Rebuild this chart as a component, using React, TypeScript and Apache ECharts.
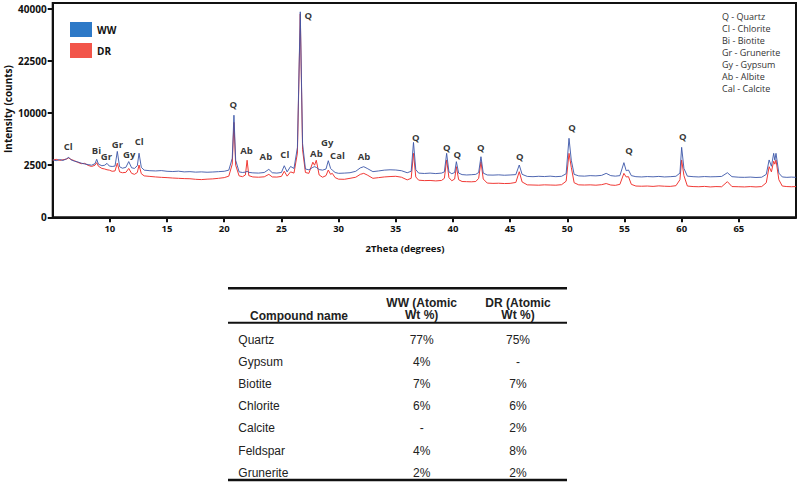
import React, { useEffect, useRef } from "react";
import * as echarts from "echarts";

// 2Theta positions (degrees) shared by both scans
const twoTheta = [
  5.0, 5.3, 5.6, 5.9, 6.2, 6.4, 6.6, 6.9, 7.2, 7.5, 7.8, 8.1, 8.4, 8.7, 8.85, 9.0, 9.3, 9.55, 9.75, 9.95,
  10.2, 10.45, 10.65, 10.85, 11.1, 11.4, 11.65, 11.9, 12.15, 12.4, 12.55, 12.75, 13.0, 13.5, 14.0, 14.5, 15.0, 15.5, 16.0, 16.5,
  17.0, 17.5, 18.0, 18.5, 19.0, 19.5, 20.0, 20.4, 20.7, 20.85, 21.0, 21.3, 21.6, 21.85, 22.0, 22.15, 22.5, 23.0, 23.5, 23.9,
  24.2, 24.6, 25.0, 25.25, 25.5, 25.8, 26.1, 26.4, 26.65, 26.85, 27.1, 27.4, 27.75, 27.9, 28.05, 28.3, 28.6, 28.9, 29.1, 29.3,
  29.45, 29.7, 30.0, 30.5, 31.0, 31.5, 31.9, 32.2, 32.5, 33.0, 33.5, 34.0, 34.5, 35.0, 35.5, 36.0, 36.35, 36.55, 36.75, 37.0,
  37.5, 38.0, 38.5, 39.0, 39.25, 39.45, 39.65, 39.9, 40.15, 40.3, 40.5, 40.8, 41.2, 41.6, 42.0, 42.25, 42.45, 42.65, 43.0, 43.5,
  44.0, 44.5, 45.0, 45.5, 45.8, 46.05, 46.5, 47.0, 47.5, 48.0, 48.5, 49.0, 49.5, 49.9, 50.15, 50.35, 50.6, 51.0, 51.5, 52.0,
  52.5, 53.0, 53.4, 53.8, 54.2, 54.6, 54.95, 55.15, 55.35, 55.6, 56.0, 56.5, 57.0, 57.5, 58.0, 58.5, 59.0, 59.5, 59.85, 60.0,
  60.2, 60.5, 61.0, 61.5, 62.0, 62.5, 63.0, 63.5, 64.0, 64.4, 65.0, 65.5, 66.0, 66.5, 67.0, 67.4, 67.65, 67.85, 68.05, 68.15,
  68.25, 68.5, 68.8, 69.2, 69.6, 70.0,
];

// Intensity (counts), WW scan
const wwCounts = [
  3050, 2950, 3080, 2980, 3150, 3320, 3050, 2900, 2820, 2700, 2620, 2560, 2500, 2650, 3100, 2600, 2450, 2500, 2680, 2420,
  2380, 2420, 4000, 2350, 2220, 2300, 2860, 2260, 2200, 2450, 3780, 2300, 2050, 2000, 1980, 2010, 1950, 1930, 1960, 1900,
  1920, 1880, 1900, 1870, 1890, 1920, 1950, 2050, 3200, 9600, 3000, 1900, 1850, 1880, 1950, 1860, 1820, 1800, 1850, 2120,
  1830, 1800, 1850, 2450, 1900, 2380, 2200, 4500, 38900, 5000, 2150, 2080, 2300, 2360, 2300, 2100, 2050, 2150, 2950, 2200,
  2050, 1850, 1780, 1800, 1830, 1950, 2250, 2360, 2200, 1920, 1980, 2050, 2080, 2060, 2000, 1830, 1950, 5170, 2100, 1800,
  1770, 1800, 1760, 1800, 1900, 3770, 1900, 1750, 1850, 2850, 1800, 1680, 1650, 1670, 1700, 1850, 3380, 1800, 1650, 1640,
  1660, 1630, 1650, 1680, 2520, 1700, 1540, 1520, 1550, 1530, 1560, 1520, 1550, 1750, 5750, 3000, 1700, 1580, 1560, 1600,
  1580, 1620, 1780, 1600, 1560, 1600, 2750, 2000, 2060, 1600, 1520, 1500, 1530, 1510, 1540, 1500, 1520, 1550, 1800, 4510,
  2200, 1560, 1520, 1500, 1530, 1510, 1520, 1540, 1830, 1520, 1480, 1470, 1490, 1460, 1480, 1700, 3030, 2400, 3770, 3000,
  3770, 1800, 1500, 1470, 1490, 1470,
];

// Intensity (counts), DR scan
const drCounts = [
  3000, 3100, 2980, 3050, 3120, 3250, 3080, 2950, 2780, 2650, 2680, 2480, 2380, 2500, 2750, 2400, 2200, 2150, 2080, 2050,
  1950, 1980, 2700, 1900, 1830, 1860, 2200, 1780, 1700, 1850, 2520, 1750, 1580, 1540, 1500, 1470, 1450, 1420, 1400, 1380,
  1370, 1330, 1310, 1340, 1360, 1400, 1450, 1560, 2600, 8300, 2500, 1580, 1520, 1650, 3000, 1600, 1500, 1480, 1510, 1700,
  1500, 1490, 1540, 1950, 1560, 1900, 1800, 3800, 38100, 4200, 1850, 1780, 2800, 2500, 3000, 1650, 1480, 1600, 2060, 1700,
  1780, 1450, 1340, 1330, 1400, 1480, 1700, 1780, 1650, 1400, 1450, 1500, 1530, 1550, 1480, 1290, 1400, 3770, 1500, 1270,
  1240, 1250, 1220, 1250, 1400, 3030, 1450, 1230, 1350, 2360, 1300, 1180, 1170, 1160, 1180, 1400, 2850, 1350, 1080, 1060,
  1070, 1050, 1060, 1120, 1915, 1150, 970, 960, 950, 970, 960, 950, 980, 1200, 3770, 2300, 1100, 970, 960, 970,
  950, 980, 1050, 960, 940, 1000, 1780, 1500, 1520, 1000, 900, 890, 900, 880, 910, 890, 880, 920, 1300, 3030,
  1600, 900, 870, 860, 880, 850, 870, 860, 1170, 870, 860, 850, 870, 850, 870, 1100, 2360, 1900, 2900, 2600,
  3030, 1300, 900, 870, 860, 870,
];

// Peak annotations: label, 2Theta, intensity level of the label
const peakLabels = ["Cl", "Bi", "Gr", "Gr", "Gy", "Cl", "Q", "Ab", "Ab", "Cl", "Q", "Ab", "Gy", "Cal", "Ab", "Q", "Q", "Q", "Q", "Q", "Q", "Q", "Q"];
const peakTheta = [6.36, 8.83, 9.7, 10.66, 11.69, 12.56, 20.8, 21.94, 23.64, 25.3, 27.36, 28.06, 29.0, 29.9, 32.23, 36.75, 39.46, 40.39, 42.43, 45.84, 50.42, 55.4, 60.1];
const peakLevel = [4600, 4050, 3460, 4910, 3660, 5270, 11620, 4050, 3460, 3660, 37640, 3770, 5150, 3560, 3460, 5900, 4460, 3580, 4520, 3460, 7460, 4050, 5990];

const xTicks = [10, 15, 20, 25, 30, 35, 40, 45, 50, 55, 60, 65];
const yTickCounts = [0, 2500, 10000, 22500, 40000];

const mineralKey = ["Q - Quartz", "Cl - Chlorite", "Bi - Biotite", "Gr - Grunerite", "Gy - Gypsum", "Ab - Albite", "Cal - Calcite"];

// Table
const tableHeaders = ["Compound name", "WW (Atomic\nWt %)", "DR (Atomic\nWt %)"];
const compoundNames = ["Quartz", "Gypsum", "Biotite", "Chlorite", "Calcite", "Feldspar", "Grunerite"];
const wwPercent = ["77%", "4%", "7%", "6%", "-", "4%", "2%"];
const drPercent = ["75%", "-", "7%", "6%", "2%", "8%", "2%"];

const AXIS_FONT = "'Open Sans', 'Noto Sans', sans-serif";
const TABLE_FONT = "'Liberation Sans', Arial, sans-serif";

export default function App() {
  const ref = useRef<HTMLDivElement>(null);

  useEffect(() => {
    if (!ref.current) return;
    const chart = echarts.init(ref.current, null, { renderer: "svg" });

    const ww = twoTheta.map((t, i) => [t, Math.sqrt(wwCounts[i])]);
    const dr = twoTheta.map((t, i) => [t, Math.sqrt(drCounts[i])]);
    const labels = peakLabels.map((l, i) => ({ name: l, value: [peakTheta[i], Math.sqrt(peakLevel[i])] }));

    const graphics: any[] = [];
    // axis titles
    graphics.push({
      type: "text",
      x: 8,
      y: 109,
      rotation: Math.PI / 2,
      style: { text: "Intensity (counts)", font: `bold 10px ${AXIS_FONT}`, fill: "#111", textAlign: "center", textVerticalAlign: "middle" },
    });
    graphics.push({
      type: "text",
      x: 405,
      y: 248,
      style: { text: "2Theta (degrees)", font: `bold 9.5px ${AXIS_FONT}`, fill: "#111", textAlign: "center", textVerticalAlign: "middle" },
    });
    // mineral key
    mineralKey.forEach((k, i) => {
      graphics.push({
        type: "text",
        x: 722,
        y: 16 + i * 12,
        style: { text: k, font: `9px ${AXIS_FONT}`, fill: "#333", textAlign: "left", textVerticalAlign: "middle" },
      });
    });

    // table
    const tl = 228, tr = 567;
    const rules = [
      { y: 288.3, h: 2.5 },
      { y: 322.7, h: 2 },
      { y: 480, h: 2.5 },
    ];
    rules.forEach((r) => {
      graphics.push({ type: "rect", shape: { x: tl, y: r.y - r.h / 2, width: tr - tl, height: r.h }, style: { fill: "#111" } });
    });
    const colX = [250, 421.7, 518];
    graphics.push({
      type: "text",
      x: colX[0],
      y: 316,
      style: { text: tableHeaders[0], font: `bold 12px ${TABLE_FONT}`, fill: "#222", textAlign: "left", textVerticalAlign: "middle" },
    });
    [1, 2].forEach((c) => {
      graphics.push({
        type: "text",
        x: colX[c],
        y: 309,
        style: { text: tableHeaders[c], font: `bold 12px ${TABLE_FONT}`, lineHeight: 12.5, fill: "#222", textAlign: "center", textVerticalAlign: "middle" },
      });
    });
    compoundNames.forEach((n, i) => {
      const y = 340 + i * 22.1;
      graphics.push({ type: "text", x: 238.3, y, style: { text: n, font: `12px ${TABLE_FONT}`, fill: "#222", textAlign: "left", textVerticalAlign: "middle" } });
      graphics.push({ type: "text", x: colX[1], y, style: { text: wwPercent[i], font: `12px ${TABLE_FONT}`, fill: "#222", textAlign: "center", textVerticalAlign: "middle" } });
      graphics.push({ type: "text", x: colX[2], y, style: { text: drPercent[i], font: `12px ${TABLE_FONT}`, fill: "#222", textAlign: "center", textVerticalAlign: "middle" } });
    });

    chart.setOption({
      animation: false,
      backgroundColor: "#fff",
      grid: {
        left: 52.7,
        right: 4,
        top: 3,
        bottom: 266.7,
        show: true,
        borderColor: "#111",
        borderWidth: 2,
        containLabel: false,
      },
      legend: {
        left: 65,
        top: 17,
        orient: "vertical",
        itemWidth: 22,
        itemHeight: 15,
        itemGap: 6,
        icon: "rect",
        selectedMode: false,
        textStyle: { fontFamily: AXIS_FONT, fontWeight: "bold", fontSize: 10, color: "#111" },
        data: [
          { name: "WW", itemStyle: { color: "#2d79c7" } },
          { name: "DR", itemStyle: { color: "#f2554a" } },
        ],
      },
      xAxis: {
        type: "value",
        min: 5,
        max: 70,
        interval: 5,
        axisLine: { show: true, lineStyle: { color: "#111", width: 2 } },
        axisTick: { show: true, length: 5, lineStyle: { color: "#111", width: 2 }, customValues: xTicks },
        axisLabel: {
          customValues: xTicks,
          margin: 6,
          fontFamily: AXIS_FONT,
          fontWeight: "bold",
          fontSize: 9.5,
          color: "#111",
        },
        splitLine: { show: false },
      },
      yAxis: {
        type: "value",
        min: 0,
        max: 205.7,
        interval: 50,
        axisLine: { show: true, lineStyle: { color: "#111", width: 2 } },
        axisTick: { show: true, length: 5, lineStyle: { color: "#111", width: 2 }, customValues: yTickCounts.map((v) => Math.sqrt(v)) },
        axisLabel: {
          customValues: yTickCounts.map((v) => Math.sqrt(v)),
          formatter: (v: number) => String(Math.round(v * v)),
          margin: 6,
          fontFamily: AXIS_FONT,
          fontWeight: "bold",
          fontSize: 10,
          color: "#111",
        },
        splitLine: { show: false },
      },
      series: [
        {
          name: "DR",
          type: "line",
          data: dr,
          showSymbol: false,
          symbol: "none",
          color: "#f03a36",
          lineStyle: { width: 1, color: "#f03a36" },
          z: 2,
        },
        {
          name: "WW",
          type: "line",
          data: ww,
          showSymbol: false,
          symbol: "none",
          color: "#3c57a8",
          lineStyle: { width: 1, color: "#3c57a8", opacity: 0.9 },
          z: 3,
        },
        {
          name: "labels",
          type: "scatter",
          data: labels,
          symbol: "circle",
          symbolSize: 1,
          itemStyle: { color: "rgba(0,0,0,0)" },
          silent: true,
          z: 5,
          label: {
            show: true,
            position: "inside",
            formatter: "{b}",
            fontFamily: AXIS_FONT,
            fontWeight: "bold",
            fontSize: 9.5,
            color: "#000",
          },
          labelLayout: { hideOverlap: false },
        },
      ],
      graphic: graphics,
    });

    return () => chart.dispose();
  }, []);

  return <div ref={ref} style={{ position: "absolute", left: 0, top: 0, width: 800, height: 484 }} />;
}
